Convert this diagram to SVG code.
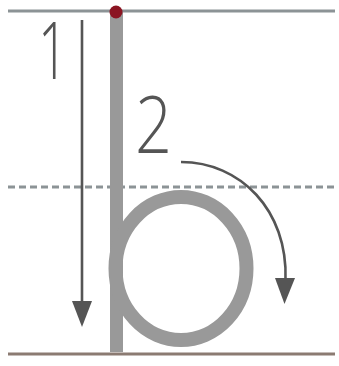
<svg xmlns="http://www.w3.org/2000/svg" width="339" height="366" viewBox="0 0 339 366">
<defs>
<style>
.guide{stroke:#8c9396;stroke-width:3;fill:none}
.letter{stroke:#999;fill:none}
.arrow{stroke:#555;stroke-width:2.6;fill:none}
.num{font-family:"Open Sans","Liberation Sans",sans-serif;font-weight:300;font-size:79px;fill:#555}
</style>
</defs>
<rect width="339" height="366" fill="#fff"/>
<g id="guides">
<line class="guide" x1="8" y1="11" x2="335" y2="11"/>
<line class="guide" x1="8" y1="187" x2="335" y2="187" stroke-dasharray="7 4"/>
<line x1="8" y1="354" x2="335" y2="354" stroke="#8b7b72" stroke-width="3"/>
</g>
<g id="letter-b">
<line class="letter" x1="116.5" y1="12" x2="116.5" y2="352" stroke-width="13"/>
<ellipse class="letter" cx="181" cy="268.5" rx="65.5" ry="71.5" stroke-width="14"/>
</g>
<g id="start-dot">
<circle cx="116" cy="12" r="6.5" fill="#8b1422"/>
</g>
<g id="connectors">
<path class="arrow" d="M82 20 L82 302"/>
<path d="M72 301 L92 301 L82 327 Z" fill="#555"/>
<path class="arrow" d="M181 162 C240 162 288 210 285.5 280"/>
<path d="M275 278 L295 278 L284.5 304 Z" fill="#555"/>
</g>
<g id="label-1">
<text class="num" x="53" y="79" text-anchor="middle" textLength="30" lengthAdjust="spacingAndGlyphs">1</text>
</g>
<g id="label-2">
<text class="num" x="135" y="153" textLength="37" lengthAdjust="spacingAndGlyphs">2</text>
</g>
</svg>
